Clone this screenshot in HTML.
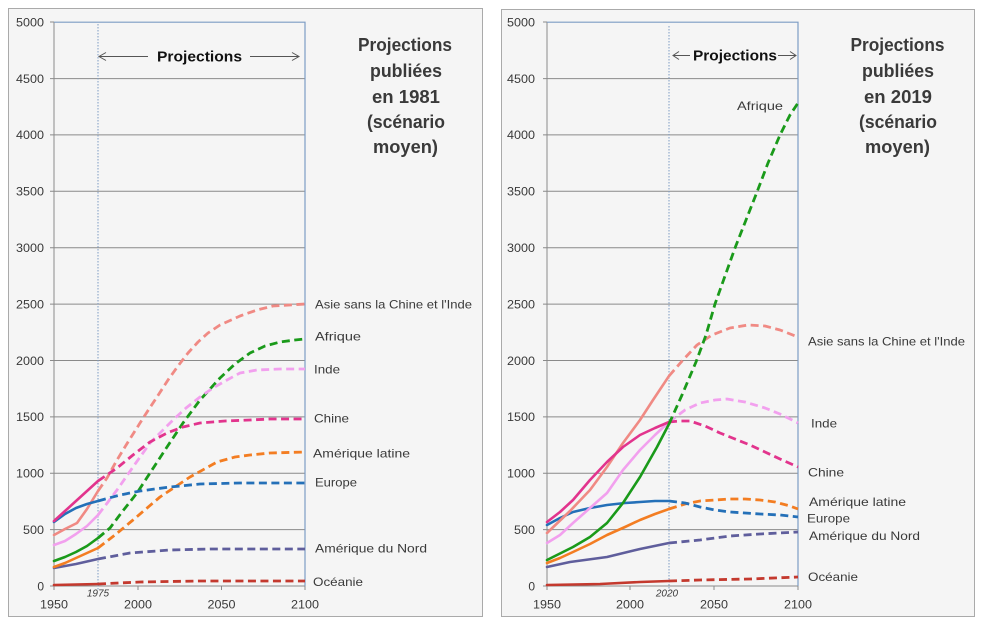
<!DOCTYPE html>
<html><head><meta charset="utf-8"><style>
html,body{margin:0;padding:0;background:#fff;}
svg{display:block;}
text{font-family:"Liberation Sans",sans-serif;fill:#3a3a3a;}
.t{font-size:12px;}
.b{font-weight:bold;fill:#111;}
.g{stroke:#8a8a8a;stroke-width:1;fill:none;}
.fr{stroke:#7d9cc4;stroke-width:1.2;fill:none;}
.s{fill:none;stroke-width:2.6;stroke-linejoin:round;stroke-linecap:round;}
.d{fill:none;stroke-width:2.8;stroke-dasharray:8 4.5;stroke-linejoin:round;}
</style></head><body>
<svg width="985" height="627" viewBox="0 0 985 627" xmlns="http://www.w3.org/2000/svg">
<rect x="0" y="0" width="985" height="627" fill="#fff"/>
<!-- panels -->
<rect x="8.5" y="8.5" width="474" height="608" fill="#f5f5f5" stroke="#aaaaaa" stroke-width="1"/>
<rect x="501.5" y="9.5" width="473" height="607" fill="#f5f5f5" stroke="#aaaaaa" stroke-width="1"/>

<!-- ============ LEFT CHART ============ -->
<g>
<path class="g" d="M50 78.6H305M50 134.9H305M50 191.3H305M50 247.7H305M50 304.1H305M50 360.5H305M50 416.9H305M50 473.2H305M50 529.6H305M50 586H305"/>
<path class="g" d="M54 22V586M54 586V590M138 586V590M221.5 586V590M305 586V590M50 22H54"/>
<path class="fr" d="M54 22.2H305V586"/>
<path d="M98 24V591" stroke="#7d9cc4" stroke-width="1" stroke-dasharray="1.5 1.5"/>
<g class="t" text-anchor="end">
<text x="44" y="26.5" textLength="28" lengthAdjust="spacingAndGlyphs">5000</text>
<text x="44" y="82.8" textLength="28" lengthAdjust="spacingAndGlyphs">4500</text>
<text x="44" y="139.2" textLength="28" lengthAdjust="spacingAndGlyphs">4000</text>
<text x="44" y="195.6" textLength="28" lengthAdjust="spacingAndGlyphs">3500</text>
<text x="44" y="252" textLength="28" lengthAdjust="spacingAndGlyphs">3000</text>
<text x="44" y="308.4" textLength="28" lengthAdjust="spacingAndGlyphs">2500</text>
<text x="44" y="364.8" textLength="28" lengthAdjust="spacingAndGlyphs">2000</text>
<text x="44" y="421.2" textLength="28" lengthAdjust="spacingAndGlyphs">1500</text>
<text x="44" y="477.5" textLength="28" lengthAdjust="spacingAndGlyphs">1000</text>
<text x="44" y="533.9" textLength="21" lengthAdjust="spacingAndGlyphs">500</text>
<text x="44" y="590.3">0</text>
</g>
<g class="t" text-anchor="middle">
<text x="54" y="608.5" textLength="28" lengthAdjust="spacingAndGlyphs">1950</text>
<text x="138" y="608.5" textLength="28" lengthAdjust="spacingAndGlyphs">2000</text>
<text x="221.5" y="608.5" textLength="28" lengthAdjust="spacingAndGlyphs">2050</text>
<text x="305" y="608.5" textLength="28" lengthAdjust="spacingAndGlyphs">2100</text>
<text x="98" y="596.5" font-size="10" font-style="italic">1975</text>
</g>
<!-- projections arrow -->
<path d="M99 56.5H148M250 56.5H299" stroke="#555" stroke-width="1" fill="none"/>
<path d="M106 52.5L99 56.5L106 60.5M292 52.5L299 56.5L292 60.5" stroke="#555" stroke-width="1" fill="none"/>
<text class="b" x="157" y="61.5" font-size="15" textLength="85" lengthAdjust="spacingAndGlyphs">Projections</text>
<!-- title -->
<g class="b" font-size="18" text-anchor="middle">
<text x="405" y="51" textLength="94" lengthAdjust="spacingAndGlyphs">Projections</text>
<text x="406" y="77" textLength="72" lengthAdjust="spacingAndGlyphs">publiées</text>
<text x="406" y="103" textLength="68" lengthAdjust="spacingAndGlyphs">en 1981</text>
<text x="406" y="128" textLength="78" lengthAdjust="spacingAndGlyphs">(scénario</text>
<text x="405.5" y="153" textLength="65" lengthAdjust="spacingAndGlyphs">moyen)</text>
</g>
<!-- series left -->
<polyline class="s" stroke="#5f5e9c" points="54,568 76,564 98,559"/>
<polyline class="d" stroke="#5f5e9c" points="98,559 130,553 170,550 210,549 305,549"/>
<polyline class="s" stroke="#c4392e" stroke-width="3.2" points="54,585 98,584"/>
<polyline class="d" stroke="#c4392e" points="98,584 140,582 200,581 305,581"/>
<polyline class="s" stroke="#f37d22" points="54,567 65,563 76,558 87,553 98,548"/>
<polyline class="d" stroke="#f37d22" points="98,548 115,535 133,520 160,497 190,477 217,462 235,457 250,455 270,453 305,452"/>
<polyline class="s" stroke="#1a9a1a" points="54,561 65,557 76,552 87,546 98,538"/>
<polyline class="d" stroke="#1a9a1a" points="98,538 110,528 122,512 137,493 150,473 167,447 183,423 200,400 220,378 235,364 250,353 265,346 280,342 295,340 305,339"/>
<polyline class="s" stroke="#f2a0ee" points="54,545 65,541 76,534 87,526 98,515"/>
<polyline class="d" stroke="#f2a0ee" points="98,515 108,502 117,490 133,467 150,443 173,420 186,408 200,397 213,388 227,380 240,373 257,370 280,369 305,369"/>
<polyline class="s" stroke="#f08a84" points="54,535 65,529 77,523 87,509 98,491"/>
<polyline class="d" stroke="#f08a84" points="98,491 107,478 117,460 128,442 140,423 149,409 157,397 168,380 178,366 188,353 198,342 208,333 220,325 240,316 257,310 273,306 290,305 305,304"/>
<polyline class="s" stroke="#2470b8" points="54,522 65,514 76,508 87,504 98,501"/>
<polyline class="d" stroke="#2470b8" points="98,501 120,495 140,491 170,487 200,484 240,483 305,483"/>
<polyline class="s" stroke="#e2348d" points="54,521 65,511 76,501 87,491 98,481"/>
<polyline class="d" stroke="#e2348d" points="98,481 117,468 133,455 150,442 167,433 183,427 200,423 225,421 250,420 270,419 305,419"/>
<!-- labels left -->
<g class="t" font-size="12.5">
<text x="315" y="308.5" textLength="157" lengthAdjust="spacingAndGlyphs">Asie sans la Chine et l'Inde</text>
<text x="315" y="340.5" textLength="46" lengthAdjust="spacingAndGlyphs">Afrique</text>
<text x="314" y="373.5" textLength="26" lengthAdjust="spacingAndGlyphs">Inde</text>
<text x="314" y="422.5" textLength="35" lengthAdjust="spacingAndGlyphs">Chine</text>
<text x="313" y="457.5" textLength="97" lengthAdjust="spacingAndGlyphs">Amérique latine</text>
<text x="315" y="486.5" textLength="42" lengthAdjust="spacingAndGlyphs">Europe</text>
<text x="315" y="552.5" textLength="112" lengthAdjust="spacingAndGlyphs">Amérique du Nord</text>
<text x="313" y="586" textLength="50" lengthAdjust="spacingAndGlyphs">Océanie</text>
</g>
</g>

<!-- ============ RIGHT CHART ============ -->
<g>
<path class="g" d="M543 78.6H798M543 134.9H798M543 191.3H798M543 247.7H798M543 304.1H798M543 360.5H798M543 416.9H798M543 473.2H798M543 529.6H798M543 586H798"/>
<path class="g" d="M547 22V586M547 586V590M630 586V590M714 586V590M798 586V590M543 22H547"/>
<path class="fr" d="M547 22.2H798V586"/>
<path d="M669 26V591" stroke="#7d9cc4" stroke-width="1" stroke-dasharray="1.5 1.5"/>
<g class="t" text-anchor="end">
<text x="535" y="26.5" textLength="28" lengthAdjust="spacingAndGlyphs">5000</text>
<text x="535" y="82.8" textLength="28" lengthAdjust="spacingAndGlyphs">4500</text>
<text x="535" y="139.2" textLength="28" lengthAdjust="spacingAndGlyphs">4000</text>
<text x="535" y="195.6" textLength="28" lengthAdjust="spacingAndGlyphs">3500</text>
<text x="535" y="252" textLength="28" lengthAdjust="spacingAndGlyphs">3000</text>
<text x="535" y="308.4" textLength="28" lengthAdjust="spacingAndGlyphs">2500</text>
<text x="535" y="364.8" textLength="28" lengthAdjust="spacingAndGlyphs">2000</text>
<text x="535" y="421.2" textLength="28" lengthAdjust="spacingAndGlyphs">1500</text>
<text x="535" y="477.5" textLength="28" lengthAdjust="spacingAndGlyphs">1000</text>
<text x="535" y="533.9" textLength="21" lengthAdjust="spacingAndGlyphs">500</text>
<text x="535" y="590.3">0</text>
</g>
<g class="t" text-anchor="middle">
<text x="547" y="608.5" textLength="28" lengthAdjust="spacingAndGlyphs">1950</text>
<text x="630" y="608.5" textLength="28" lengthAdjust="spacingAndGlyphs">2000</text>
<text x="714" y="608.5" textLength="28" lengthAdjust="spacingAndGlyphs">2050</text>
<text x="798" y="608.5" textLength="28" lengthAdjust="spacingAndGlyphs">2100</text>
<text x="667" y="596.5" font-size="10" font-style="italic">2020</text>
</g>
<path d="M673 55.5H690M778 55.5H796" stroke="#555" stroke-width="1" fill="none"/>
<path d="M679 51.5L673 55.5L679 59.5M790 51.5L796 55.5L790 59.5" stroke="#555" stroke-width="1" fill="none"/>
<text class="b" x="693" y="60.5" font-size="15" textLength="84" lengthAdjust="spacingAndGlyphs">Projections</text>
<g class="b" font-size="18" text-anchor="middle">
<text x="897.5" y="51" textLength="94" lengthAdjust="spacingAndGlyphs">Projections</text>
<text x="898" y="77" textLength="72" lengthAdjust="spacingAndGlyphs">publiées</text>
<text x="898" y="103" textLength="68" lengthAdjust="spacingAndGlyphs">en 2019</text>
<text x="898" y="128" textLength="78" lengthAdjust="spacingAndGlyphs">(scénario</text>
<text x="897.5" y="153" textLength="65" lengthAdjust="spacingAndGlyphs">moyen)</text>
</g>
<!-- series right -->
<polyline class="s" stroke="#c4392e" stroke-width="3.2" points="547,585 600,584 640,582 669,581"/>
<polyline class="d" stroke="#c4392e" points="669,581 700,580 750,579 798,577"/>
<polyline class="s" stroke="#5f5e9c" points="547,567 570,562 607,557 640,549 669,543"/>
<polyline class="d" stroke="#5f5e9c" points="669,543 700,540 730,536 760,534 798,532"/>
<polyline class="s" stroke="#f37d22" points="547,563 560,558 573,552 590,544 607,535 625,527 640,520 655,514 669,509"/>
<polyline class="d" stroke="#f37d22" points="669,509 685,504 700,501 715,500 730,499 745,499 760,500 775,502 790,506 798,509"/>
<polyline class="s" stroke="#2470b8" points="547,525 560,518 573,512 590,508 607,505 625,503 640,502 655,501 669,501"/>
<polyline class="d" stroke="#2470b8" points="669,501 685,503 700,507 715,510 730,512 745,513 760,514 780,515 798,517"/>
<polyline class="s" stroke="#f2a0ee" points="547,543 560,535 573,523 590,508 607,493 623,470 640,450 655,435 669,422"/>
<polyline class="d" stroke="#f2a0ee" points="669,422 685,410 700,403 715,400 727,399 745,402 765,408 780,414 798,423"/>
<polyline class="s" stroke="#f08a84" points="547,533 570,511 590,490 607,467 623,443 640,420 653,400 669,376"/>
<polyline class="d" stroke="#f08a84" points="669,376 683,360 697,345 712,335 730,328 748,325 765,326 780,330 798,337"/>
<polyline class="s" stroke="#e2348d" points="547,522 560,512 573,500 590,480 607,462 623,447 640,435 655,428 669,422"/>
<polyline class="d" stroke="#e2348d" points="669,422 680,421 690,421 705,426 720,433 735,439 750,445 765,452 780,459 798,467"/>
<polyline class="s" stroke="#1a9a1a" points="547,560 573,547 590,537 607,523 623,503 640,477 657,447 669,424"/>
<polyline class="d" stroke="#1a9a1a" points="669,424 682,395 696,362 706,335 715,304 725,276 735,248 746,220 757,192 768,163 780,135 790,115 798,103"/>
<g class="t" font-size="12.5">
<text x="737" y="110" textLength="46" lengthAdjust="spacingAndGlyphs">Afrique</text>
<text x="808" y="345.5" textLength="157" lengthAdjust="spacingAndGlyphs">Asie sans la Chine et l'Inde</text>
<text x="811" y="427.5" textLength="26" lengthAdjust="spacingAndGlyphs">Inde</text>
<text x="808" y="476.5" textLength="36" lengthAdjust="spacingAndGlyphs">Chine</text>
<text x="809" y="506" textLength="97" lengthAdjust="spacingAndGlyphs">Amérique latine</text>
<text x="807" y="522.5" textLength="43" lengthAdjust="spacingAndGlyphs">Europe</text>
<text x="809" y="540" textLength="111" lengthAdjust="spacingAndGlyphs">Amérique du Nord</text>
<text x="808" y="581" textLength="50" lengthAdjust="spacingAndGlyphs">Océanie</text>
</g>
</g>
</svg>
</body></html>
